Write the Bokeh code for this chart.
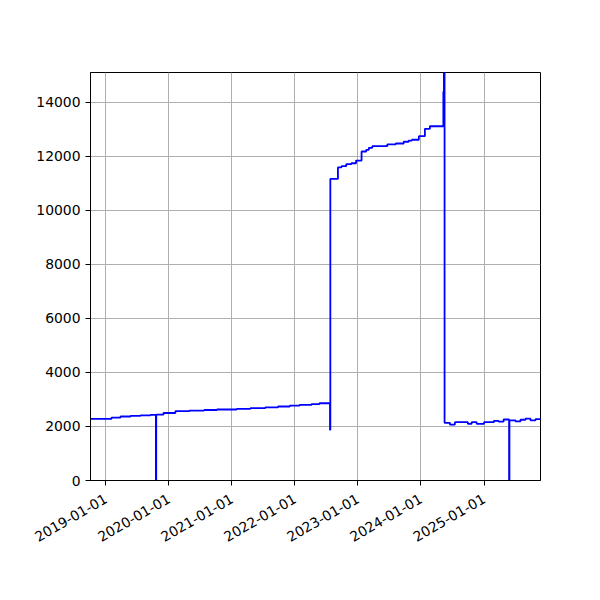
import math
import pandas as pd
from bokeh.plotting import figure
from bokeh.models import FixedTicker, DatetimeTickFormatter, Range1d
from bokeh.embed import file_html
from bokeh.resources import INLINE

dates = [
    "2018-10-04", "2019-02-03", "2019-03-27", "2019-05-24", "2019-07-21",
    "2019-09-16", "2019-10-18", "2019-10-20", "2019-12-01", "2020-02-08",
    "2020-04-30", "2020-07-24", "2020-10-06", "2021-01-28", "2021-04-18",
    "2021-07-13", "2021-09-25", "2021-12-02", "2022-01-28", "2022-04-07",
    "2022-05-23", "2022-07-23", "2022-07-25",
    "2022-09-07", "2022-09-28", "2022-10-25", "2022-11-24", "2022-12-21",
    "2023-01-22", "2023-02-18", "2023-03-05", "2023-03-25", "2023-06-20",
    "2023-08-08", "2023-09-23", "2023-10-22", "2023-11-10", "2023-12-20",
    "2024-01-24", "2024-02-22", "2024-05-10", "2024-05-13", "2024-05-17",
    "2024-06-17", "2024-07-16", "2024-09-29", "2024-10-21", "2024-11-19",
    "2025-01-01", "2025-02-27", "2025-03-26", "2025-04-24", "2025-05-26",
    "2025-05-28", "2025-07-02", "2025-07-31", "2025-08-29", "2025-09-27",
    "2025-10-26", "2025-12-05",
]
values = [
    2285, 2330, 2370, 2390, 2410,
    2430, 0, 2440, 2500, 2570,
    2590, 2610, 2630, 2650, 2680,
    2710, 2740, 2770, 2800, 2830,
    2860, 1880, 11170,
    11600, 11640, 11715, 11750, 11850,
    12185, 12245, 12320, 12380, 12445,
    12480, 12545, 12590, 12620, 12750,
    13025, 13120, 14400, 16000, 2135,
    2070, 2160, 2100, 2160, 2100,
    2160, 2210, 2180, 2260, 0,
    2230, 2190, 2250, 2290, 2230,
    2270, 2270,
]
year_ticks = ["2019-01-01", "2020-01-01", "2021-01-01", "2022-01-01",
              "2023-01-01", "2024-01-01", "2025-01-01"]
y_ticks = [0, 2000, 4000, 6000, 8000, 10000, 12000, 14000]
x_start, x_end = "2018-10-04", "2025-11-24"
y_start, y_end = 0, 15110

x = pd.to_datetime(dates)

p = figure(width=590, height=590, output_backend="svg", toolbar_location=None,
           x_axis_type="datetime",
           x_range=Range1d(pd.Timestamp(x_start), pd.Timestamp(x_end)),
           y_range=Range1d(y_start, y_end),
           min_border_left=90, min_border_right=50, min_border_top=72, min_border_bottom=110)
p.frame_width = 450
p.frame_height = 408

p.step(x, values, mode="after", line_color="blue", line_width=1.8)

tick_ms = [pd.Timestamp(t).value / 1e6 for t in year_ticks]
p.xaxis.ticker = FixedTicker(ticks=tick_ms)
fmt = "%Y-%m-%d"
p.xaxis.formatter = DatetimeTickFormatter(years=fmt, months=fmt, days=fmt, hours=fmt,
                                          hourmin=fmt, minutes=fmt, minsec=fmt,
                                          seconds=fmt, milliseconds=fmt, microseconds=fmt)
p.xaxis.major_label_orientation = math.pi / 6
p.xaxis.major_label_standoff = 12
p.yaxis.ticker = FixedTicker(ticks=y_ticks)

for ax in (p.xaxis[0], p.yaxis[0]):
    ax.axis_line_color = "black"
    ax.axis_line_width = 1
    ax.major_tick_line_color = "black"
    ax.major_tick_out = 5
    ax.major_tick_in = 0
    ax.minor_tick_line_color = None
    ax.major_label_text_font = "DejaVu Sans"
    ax.major_label_text_font_size = "13.9px"
    ax.major_label_text_color = "black"

p.xgrid.ticker = FixedTicker(ticks=tick_ms)
p.ygrid.ticker = FixedTicker(ticks=y_ticks)
for g in (p.xgrid[0], p.ygrid[0]):
    g.grid_line_color = "#b0b0b0"
    g.grid_line_width = 1

p.outline_line_color = "black"
p.outline_line_width = 1
p.outline_line_alpha = 1
p.background_fill_color = "white"
p.border_fill_color = "white"

open("out.html", "w").write(file_html(p, INLINE))
